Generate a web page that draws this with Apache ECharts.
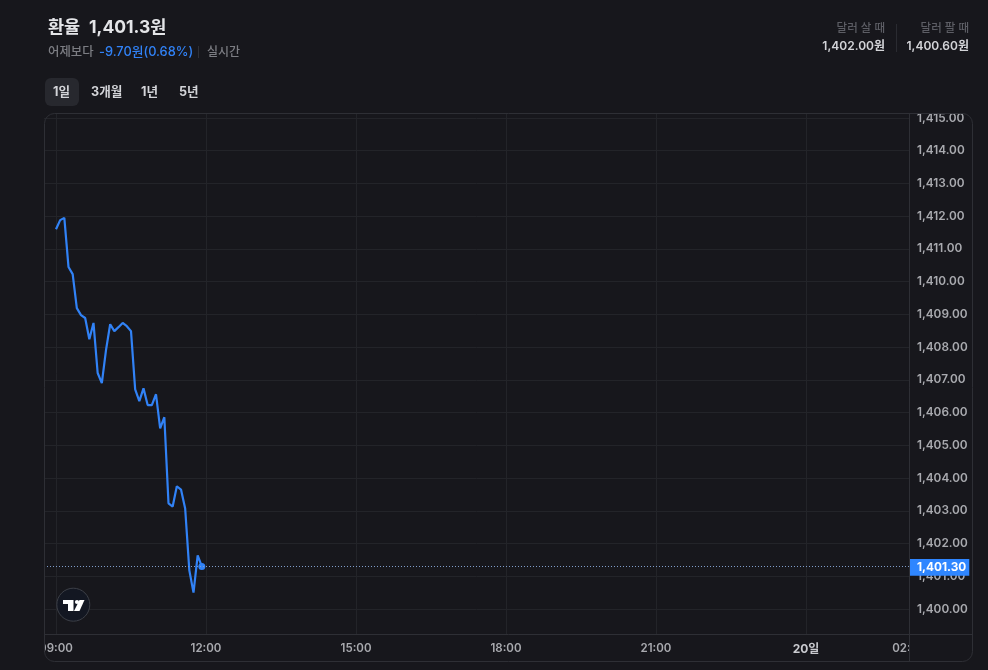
<!DOCTYPE html>
<html><head><meta charset="utf-8">
<style>html,body{margin:0;padding:0;background:#17171c}#c{width:988px;height:670px}</style>
<script src="https://cdn.jsdelivr.net/npm/echarts@6/dist/echarts.min.js"></script>
</head><body><div id="c"></div>
<script>
const minutes=[0,5,10,15,20,25,30,35,40,45,50,55,60,65,70,75,80,85,90,95,100,105,110,115,120,125,130,135,140,145,150,155,160,165,170,175];
const rates=[1411.60,1411.88,1411.95,1410.45,1410.23,1409.19,1408.98,1408.89,1408.24,1408.74,1407.21,1406.90,1407.91,1408.70,1408.49,1408.61,1408.74,1408.64,1408.49,1406.71,1406.35,1406.74,1406.23,1406.23,1406.56,1405.52,1405.86,1403.23,1403.13,1403.75,1403.65,1403.07,1401.18,1400.50,1401.64,1401.30];
const xTickValues=[0,180,360,540,720,900,1023.6];
const xTickLabels=["09:00","12:00","15:00","18:00","21:00","20일","02:00"];
const yTickValues=[1400,1401,1402,1403,1404,1405,1406,1407,1408,1409,1410,1411,1412,1413,1414,1415];
const lastPrice=1401.30;
const FONT='Inter,"Noto Sans CJK KR",sans-serif';
const BG='#17171c',GRID='#232429',BORDER='#2e2f35',BLUE='#3182f6';
const T=(x,y,text,o)=>({type:'text',x,y,z:50,style:Object.assign({text,fontFamily:FONT,fontSize:12,fill:'#808187',textVerticalAlign:'middle',textBaseline:'middle'},o||{})});
const L=(x1,y1,x2,y2,c)=>({type:'line',z:40,shape:{x1,y1,x2,y2},style:{stroke:c||BORDER,lineWidth:1}});
const chart=echarts.init(document.getElementById('c'));
chart.setOption({
 backgroundColor:BG,animation:false,
 grid:{left:44,right:79,top:113,bottom:36,containLabel:false},
 xAxis:{type:'value',min:-14.4,max:1023.6,
  axisLine:{show:false},
  axisTick:{show:false,customValues:xTickValues},
  splitLine:{show:true,lineStyle:{color:GRID,width:1}},
  axisLabel:{customValues:xTickValues,margin:9,color:'#a9aaaf',fontFamily:FONT,fontSize:11.5,fontWeight:600,hideOverlap:false,
   formatter:v=>{const s=xTickLabels[xTickValues.indexOf(v)];return s==='20일'?'{b|'+s+'}':s;},
   rich:{b:{color:'#c9cacf',fontWeight:700,fontSize:12,fontFamily:FONT}}}},
 yAxis:{type:'value',position:'right',min:1399.236,max:1415.153,
  axisLine:{show:false},
  axisTick:{show:false,customValues:yTickValues},
  splitLine:{show:true,lineStyle:{color:GRID,width:1}},
  axisLabel:{customValues:yTickValues,margin:8,color:'#a9aaaf',fontFamily:FONT,fontSize:11.8,fontWeight:600,hideOverlap:false,padding:[2,0,0,0],
   formatter:v=>v.toLocaleString('en-US',{minimumFractionDigits:2,maximumFractionDigits:2})}},
 series:[{type:'line',data:minutes.map((m,i)=>[m,rates[i]]),showSymbol:false,smooth:false,
  lineStyle:{color:BLUE,width:2.2},itemStyle:{color:BLUE},z:5,
  markPoint:{silent:true,symbol:'circle',symbolSize:7,itemStyle:{color:BLUE},label:{show:false},
   data:[{coord:[minutes[minutes.length-1],rates[rates.length-1]]}]},
  markLine:{silent:true,symbol:'none',z:30,
   lineStyle:{color:'#7f9cc9',type:[1,2],width:1},
   label:{position:'end',distance:0,offset:[0,1],color:'#fff',backgroundColor:'#2f86ff',padding:[3,3,2,8],fontFamily:FONT,fontSize:11.8,fontWeight:700,
    formatter:()=>lastPrice.toLocaleString('en-US',{minimumFractionDigits:2})},
   data:[{yAxis:lastPrice}]}}],
 graphic:[
  {type:'rect',z:35,shape:{x:0,y:636,width:44,height:26},style:{fill:BG}},
  {type:'rect',z:35,shape:{x:910,y:636,width:60,height:25},style:{fill:BG}},
  {type:'rect',z:35,shape:{x:910,y:100,width:60,height:13},style:{fill:BG}},
  {type:'rect',z:40,shape:{x:44.5,y:113.5,width:928,height:548,r:10},style:{fill:'none',stroke:BORDER,lineWidth:1}},
  L(909.5,113,909.5,662),L(44,634.5,973,634.5),
  T(48,27.5,'환율',{fontSize:17.5,fontWeight:700,fill:'#e4e5e8'}),
  T(89,27.5,'1,401.3원',{fontSize:17.5,fontWeight:700,fill:'#e4e5e8'}),
  T(48,52.5,'어제보다',{fontSize:12.4,fontWeight:500,fill:'#7c7d83'}),
  T(99,52.5,'-9.70원(0.68%)',{fontSize:12.8,fontWeight:500,fill:BLUE}),
  L(198.5,46,198.5,58,'#2e2f35'),
  T(207,52.5,'실시간',{fontSize:12,fontWeight:500,fill:'#7c7d83'}),
  {type:'rect',z:20,shape:{x:45,y:78,width:34,height:28,r:6},style:{fill:'#27282e'}},
  T(53,92.5,'1일',{fontSize:12.6,fontWeight:700,fill:'#d3d4d8'}),
  T(91,92.5,'3개월',{fontSize:12.6,fontWeight:700,fill:'#d3d4d8'}),
  T(141,92.5,'1년',{fontSize:12.6,fontWeight:700,fill:'#d3d4d8'}),
  T(179,92.5,'5년',{fontSize:12.6,fontWeight:700,fill:'#d3d4d8'}),
  T(885,29,'달러 살 때',{fontSize:11.5,fontWeight:500,fill:'#5d5e65',textAlign:'right'}),
  T(885,46.5,'1,402.00원',{fontSize:12,fontWeight:600,fill:'#d3d4d8',textAlign:'right'}),
  L(896.5,24,896.5,52,'#2a2b31'),
  T(969,29,'달러 팔 때',{fontSize:11.5,fontWeight:500,fill:'#5d5e65',textAlign:'right'}),
  T(969,46.5,'1,400.60원',{fontSize:12,fontWeight:600,fill:'#d3d4d8',textAlign:'right'}),
  {type:'circle',z:42,shape:{cx:73.3,cy:604.7,r:16.5},style:{fill:'#131722',stroke:'#3c3f47',lineWidth:1}},
  {type:'polygon',z:43,shape:{points:[[63,600],[73.5,600],[73.5,611],[68,611],[68,604],[63,604]]},style:{fill:'#fff'}},
  {type:'circle',z:43,shape:{cx:77,cy:602,r:2.1},style:{fill:'#fff'}},
  {type:'polygon',z:43,shape:{points:[[79.5,600],[84.5,600],[79.5,611],[74,611]]},style:{fill:'#fff'}}
 ]
});
</script></body></html>
